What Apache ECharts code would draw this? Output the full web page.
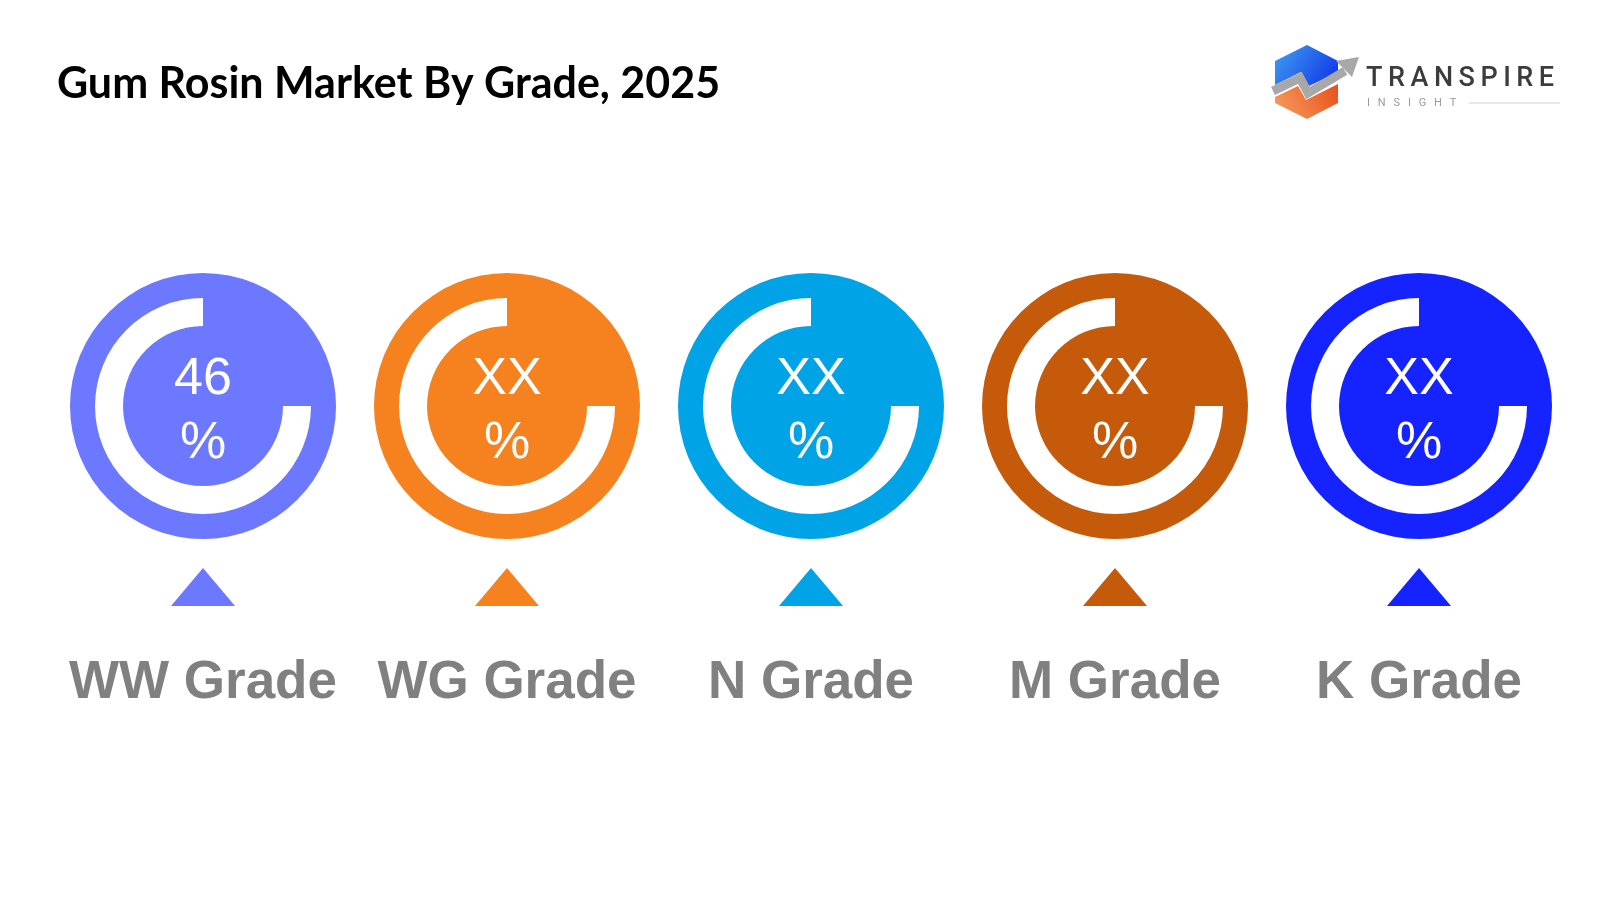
<!DOCTYPE html>
<html>
<head>
<meta charset="utf-8">
<script src="https://cdn.jsdelivr.net/npm/echarts@6/dist/echarts.min.js"></script>
<style>
html,body{margin:0;padding:0;background:#fff;}
#chart{width:1600px;height:900px;}
</style>
</head>
<body>
<div id="chart"></div>
<script>
// ---- data ----
const categories = ['WW Grade', 'WG Grade', 'N Grade', 'M Grade', 'K Grade'];
const shareLabels = ['46', 'XX', 'XX', 'XX', 'XX'];
const ringArc = [75, 75, 75, 75, 75];
const colors = ['#6B78FF', '#F5821F', '#00A4E6', '#C55A0A', '#1423FF'];

// ---- layout ----
const gridLeft = 51, slot = 304, cy = 406;
const series = [];
categories.forEach((name, i) => {
  const cx = gridLeft + slot / 2 + slot * i;
  series.push({
    type: 'pie', silent: true, center: [cx, cy], radius: [0, 133],
    startAngle: 90, z: 1,
    label: {
      show: true, position: 'center', offset: [0, 6],
      formatter: '{v|' + shareLabels[i] + '}\n{p|%}',
      rich: {
        v: {fontFamily: 'Liberation Sans, Arial', fontSize: 52, color: '#fff', lineHeight: 64},
        p: {fontFamily: 'Liberation Sans, Arial', fontSize: 52, color: '#fff', lineHeight: 64}
      }
    },
    labelLine: {show: false},
    emphasis: {disabled: true},
    data: [{name: name, value: 1, itemStyle: {color: colors[i]}}]
  });
  series.push({
    type: 'pie', silent: true, center: [cx, cy], radius: [80, 108],
    startAngle: 90, clockwise: false, z: 2,
    label: {show: false}, labelLine: {show: false},
    emphasis: {disabled: true},
    data: [
      {name: name, value: ringArc[i], itemStyle: {color: '#ffffff'}},
      {name: 'rest', value: 100 - ringArc[i], itemStyle: {color: 'rgba(0,0,0,0)'}}
    ]
  });
});
series.push({
  type: 'scatter', symbol: 'triangle', symbolSize: [64, 38], silent: true,
  data: categories.map((c, i) => ({value: [c, 0.5], itemStyle: {color: colors[i], opacity: 1}}))
});

// ---- logo letters ----
const brand = 'TRANSPIRE'.split('').join('\u2009');
const sub = 'INSIGHT'.split('').join('\u2002\u2009');

const chart = echarts.init(document.getElementById('chart'));
chart.setOption({
  animation: false,
  backgroundColor: '#ffffff',
  title: {
    text: 'Gum Rosin Market By Grade, 2025', left: 52, top: 58,
    textStyle: {fontFamily: 'Lato', fontWeight: 'bold', fontSize: 43, color: '#000'}
  },
  grid: {left: gridLeft, width: slot * 5, top: 557, height: 60},
  xAxis: {
    type: 'category', data: categories,
    axisLine: {show: false}, axisTick: {show: false}, splitLine: {show: false},
    axisLabel: {
      margin: 40, fontFamily: 'Liberation Sans, Arial', fontWeight: 'bold',
      fontSize: 53, color: '#808080', interval: 0
    }
  },
  yAxis: {type: 'value', min: 0, max: 1, show: false},
  series: series,
  graphic: [
    {type: 'polygon', shape: {points: [[1275,61],[1307,45],[1338,61],[1338,72],[1309,86],[1301,72],[1275,85]]},
     style: {fill: new echarts.graphic.LinearGradient(0,0,1,1,[{offset:0,color:'#3FA0F0'},{offset:1,color:'#1030E8'}])}},
    {type: 'polygon', shape: {points: [[1275,97],[1298,86],[1306,100],[1338,84],[1338,103],[1307,119],[1275,103]]},
     style: {fill: new echarts.graphic.LinearGradient(0,1,1,0,[{offset:0,color:'#F6A060'},{offset:1,color:'#E8501A'}])}},
    {type: 'polyline', shape: {points: [[1273,91],[1300,78],[1308,93],[1345,71]]},
     style: {stroke: '#A8A8A8', lineWidth: 9, lineJoin: 'miter'}},
    {type: 'polygon', shape: {points: [[1336,61],[1359,57],[1352,77]]}, style: {fill: '#A8A8A8'}},
    {type: 'text', left: 1366, top: 66, style: {text: brand, font: '500 27px Roboto', fill: '#3C3C3C'}},
    {type: 'text', left: 1367, top: 98, style: {text: sub, font: '400 11px Roboto', fill: '#9A9A9A'}},
    {type: 'line', shape: {x1: 1469, y1: 103, x2: 1560, y2: 103}, style: {stroke: '#CFCFCF', lineWidth: 1}}
  ]
});
</script>
</body>
</html>
